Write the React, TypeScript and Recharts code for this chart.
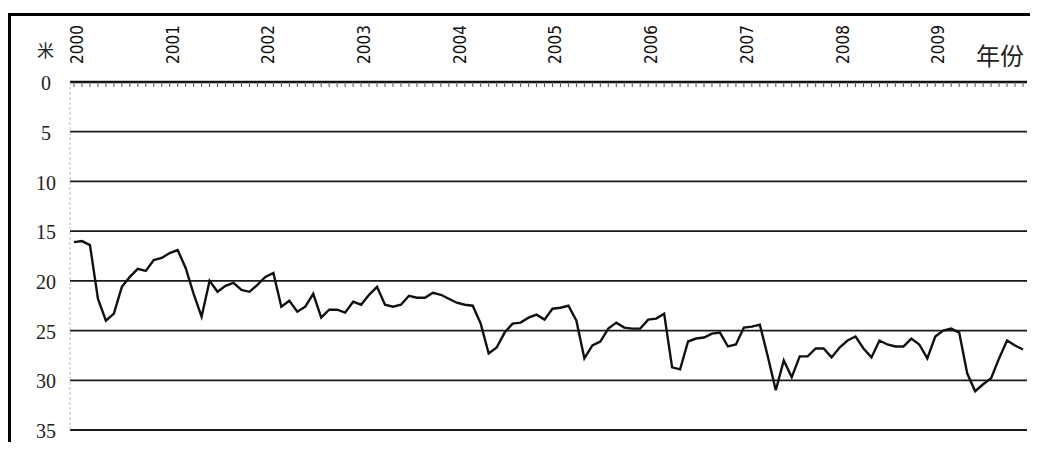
import React from 'react';
import { LineChart, Line, XAxis, YAxis, CartesianGrid } from 'recharts';

// 地下水埋深（米），2000年1月 - 2009年12月，逐月
const depth = [
  16.1, 16.0, 16.4, 21.8, 24.0, 23.3, 20.6, 19.6, 18.8, 19.0, 17.9, 17.7,
  17.2, 16.9, 18.7, 21.3, 23.6, 20.0, 21.1, 20.5, 20.2, 20.9, 21.1, 20.4,
  19.6, 19.2, 22.6, 22.0, 23.1, 22.6, 21.3, 23.7, 22.9, 22.9, 23.2, 22.1,
  22.4, 21.4, 20.6, 22.4, 22.6, 22.4, 21.5, 21.7, 21.7, 21.2, 21.4, 21.8,
  22.2, 22.4, 22.5, 24.3, 27.3, 26.7, 25.2, 24.3, 24.2, 23.7, 23.4, 23.9,
  22.8, 22.7, 22.5, 24.0, 27.8, 26.5, 26.1, 24.8, 24.2, 24.7, 24.8, 24.8,
  23.9, 23.8, 23.3, 28.7, 28.9, 26.1, 25.8, 25.7, 25.3, 25.2, 26.6, 26.4,
  24.7, 24.6, 24.4, 27.6, 31.0, 28.0, 29.7, 27.6, 27.6, 26.8, 26.8, 27.7,
  26.7, 26.0, 25.6, 26.8, 27.7, 26.0, 26.4, 26.6, 26.6, 25.8, 26.4, 27.8,
  25.6, 25.0, 24.8, 25.2, 29.3, 31.1, 30.4, 29.8, 27.8, 26.0, 26.5, 26.9,
];

const years = ['2000', '2001', '2002', '2003', '2004', '2005', '2006', '2007', '2008', '2009'];
const depthTicks = [0, 5, 10, 15, 20, 25, 30, 35];

const data = depth.map((v, i) => ({ m: i, depth: v }));
const monthTicks = data.map((d) => d.m);

const MonthTick = (props: any) => {
  const { x, y, payload } = props;
  const v = payload.value;
  const year = v % 12 === 0 ? years[v / 12] : null;
  return (
    <g>
      <line x1={x} y1={y} x2={x} y2={y + 5} stroke="#555" strokeWidth={1} />
      {year && (
        <text
          x={x + 3}
          y={y - 18}
          dy="0.35em"
          transform={`rotate(-90, ${x + 3}, ${y - 18})`}
          textAnchor="start"
          fontFamily="'DejaVu Sans Condensed', 'DejaVu Sans', sans-serif"
          fontSize={17}
          fill="#111"
        >
          {year}
        </text>
      )}
    </g>
  );
};

const DepthTick = (props: any) => {
  const { x, y, payload } = props;
  return (
    <text
      x={x - 24}
      y={y + 1}
      dy="0.36em"
      textAnchor="middle"
      fontFamily="Liberation Serif"
      fontSize={20}
      fill="#222"
    >
      {payload.value}
    </text>
  );
};

export default function App() {
  return (
    <div style={{ position: 'relative', width: 1030, height: 434, background: '#fff' }}>
      <div
        style={{
          position: 'absolute',
          left: 0,
          top: 5,
          width: 1030,
          height: 437,
          borderTop: '3px solid #000',
          borderLeft: '3px solid #000',
          boxSizing: 'border-box',
        }}
      />
      <span
        style={{
          position: 'absolute',
          left: 29,
          top: 33,
          fontSize: 17,
          lineHeight: 1,
          color: '#222',
          fontFamily: "'Noto Sans CJK SC', sans-serif",
        }}
      >
        米
      </span>
      <span
        style={{
          position: 'absolute',
          left: 968,
          top: 35,
          fontSize: 24,
          lineHeight: 1,
          color: '#222',
          fontFamily: "'Noto Sans CJK SC', sans-serif",
        }}
      >
        年份
      </span>
      <div style={{ position: 'absolute', left: 0, top: 0 }}>
        <LineChart width={1030} height={434} data={data} margin={{ top: 4, right: 11, bottom: 12, left: 0 }}>
          <CartesianGrid vertical={false} stroke="#1a1a1a" strokeWidth={1.8} />
          <XAxis
            dataKey="m"
            type="number"
            orientation="top"
            domain={[0, 119]}
            ticks={monthTicks}
            interval={0}
            height={70}
            padding={{ left: 4, right: 4 }}
            tickSize={0}
            tickMargin={0}
            tickLine={false}
            axisLine={{ stroke: '#111', strokeWidth: 2.5 }}
            tick={<MonthTick />}
          />
          <YAxis
            reversed
            domain={[0, 35]}
            ticks={depthTicks}
            interval={0}
            width={62}
            tickSize={0}
            tickMargin={0}
            tickLine={false}
            axisLine={{ stroke: '#bbb', strokeDasharray: '3 2' }}
            tick={<DepthTick />}
          />
          <YAxis
            yAxisId="r"
            orientation="right"
            domain={[0, 35]}
            width={0}
            tick={false}
            tickLine={false}
            axisLine={{ stroke: '#bbb', strokeDasharray: '3 2' }}
          />
          <Line
            type="linear"
            dataKey="depth"
            stroke="#111"
            strokeWidth={2.4}
            dot={false}
            isAnimationActive={false}
          />
        </LineChart>
      </div>
    </div>
  );
}
